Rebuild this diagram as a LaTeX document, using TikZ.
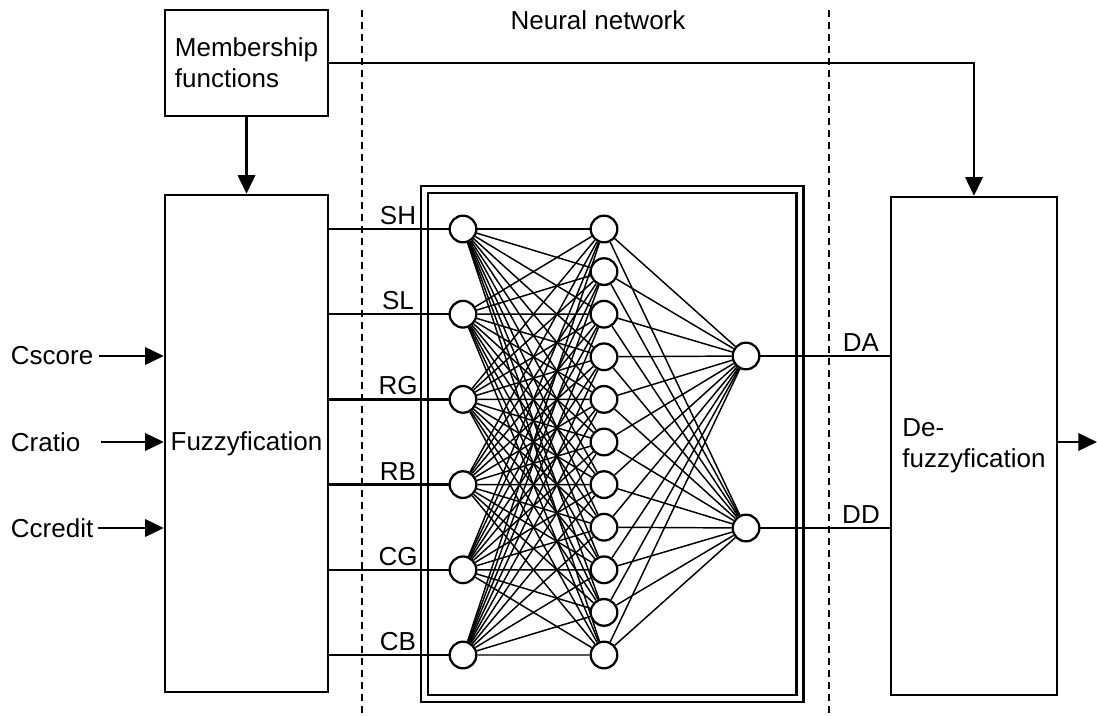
\documentclass[tikz,border=0pt]{standalone}
\usepackage{fontspec}
\setmainfont{Liberation Sans}
\usetikzlibrary{arrows.meta,calc}
\begin{document}
\begin{tikzpicture}[x=0.75pt,y=-0.75pt,
  font=\fontsize{19.5}{23}\selectfont,
  box/.style={draw, line width=1.8pt, inner sep=0pt},
  neuron/.style={circle, draw, line width=1.7pt, fill=white, minimum size=20pt, inner sep=0pt},
  link/.style={line width=1.1pt},
  wire/.style={line width=1.8pt},
  arr/.style={wire, -{Triangle[length=14pt,width=13pt]}},
  sep/.style={line width=2.1pt, dash pattern=on 5.5pt off 3.5pt},
  lbl/.style={inner sep=1pt}]
\useasboundingbox (0,0) rectangle (1097,715);

% separators
\draw[sep] (362,10) -- (362,715);
\draw[sep] (829,10) -- (829,715);
\node (title) at (598,20) {Neural network};

% boxes
\node[box, minimum width=122.25pt, minimum height=79.5pt, align=left] (mf) at (246.5,63) {Membership\\functions};
\node[box, minimum width=122.25pt, minimum height=372.75pt] (fz) at (246.5,443.5) {Fuzzyfication};
\node[box, minimum width=124.5pt, minimum height=373.5pt, align=left] (df) at (974,446) {De-\\fuzzyfication};
\node[draw, line width=1.8pt, double, double distance=3.4pt, minimum width=281.6pt, minimum height=381.75pt] (nn) at (612.25,444) {};

% membership arrows
\draw[arr] (mf.south) -- (fz.north);
\draw[arr] (mf.east) -| (df.north);

% inputs
\node[anchor=west, inner sep=2pt] (cs) at (8,356) {Cscore};
\node[anchor=west, inner sep=2pt] (cr) at (8,442) {Cratio};
\node[anchor=west, inner sep=2pt] (cc) at (8,528) {Ccredit};
\draw[arr] ([xshift=2pt]cs.east) -- (fz.west |- cs);
\draw[arr] ([xshift=13pt]cr.east) -- (fz.west |- cr);
\draw[arr] ([xshift=1pt]cc.east) -- (fz.west |- cc);

% output
\coordinate (out) at (1097,442);
\draw[arr] (df.east |- out) -- (out);

% neurons
\foreach \k in {1,...,6} {
  \node[neuron] (i\k) at (463,{229+(\k-1)*85.2}) {};
}
\foreach \k in {1,...,11} {
  \node[neuron] (h\k) at (604,{229+(\k-1)*42.6}) {};
}
\node[neuron] (o1) at (746,356) {};
\node[neuron] (o2) at (746,528) {};

\foreach \a in {1,...,6} {
  \foreach \b in {1,...,11} {
    \draw[link] (i\a) -- (h\b);
  }
}
\foreach \b in {1,...,11} {
  \draw[link] (h\b) -- (o1);
  \draw[link] (h\b) -- (o2);
}

% input wires and labels
\foreach \k/\t in {1/SH,2/SL,3/RG,4/RB,5/CG,6/CB} {
  \draw[wire] (fz.east |- i\k) -- (i\k);
  \node[lbl, anchor=south] (l\k) at ([yshift=2pt]398,{229+(\k-1)*85.2}) {\t};
}

% output wires and labels
\draw[wire] (o1) -- (df.west |- o1);
\draw[wire] (o2) -- (df.west |- o2);
\node[lbl, anchor=south] (lda) at ([yshift=2pt]861,356) {DA};
\node[lbl, anchor=south] (ldd) at ([yshift=2pt]861,528) {DD};
\end{tikzpicture}
\end{document}
